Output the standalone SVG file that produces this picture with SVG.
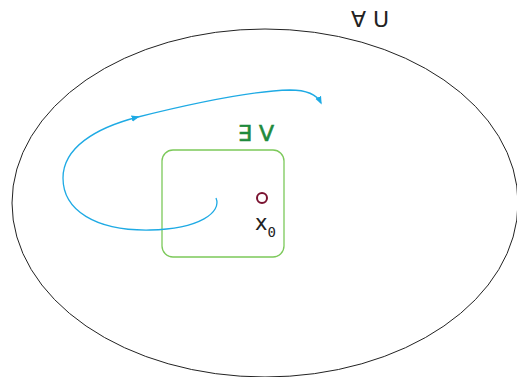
<svg xmlns="http://www.w3.org/2000/svg" width="517" height="377" viewBox="0 0 517 377">
<style>
.lbl{font-family:"DejaVu Sans","Liberation Sans",sans-serif}
.mono{font-family:"DejaVu Sans Mono","Liberation Mono",monospace}
.flow{fill:none;stroke:#1eaae4;stroke-width:1.3}
</style>
<defs>
<marker id="ah" viewBox="0 0 10 10" refX="8" refY="5" markerWidth="8" markerHeight="8" markerUnits="userSpaceOnUse" orient="auto">
<path d="M0,1 L10,5 L0,9 z" fill="#1eaae4"/>
</marker>
</defs>
<rect width="517" height="377" fill="#fff"/>
<g id="U">
<ellipse cx="265" cy="203" rx="253" ry="174" fill="none" stroke="#222" stroke-width="1"/>
<text class="lbl" x="351" y="27" font-size="22" fill="#222">∀ U</text>
</g>
<g id="V">
<rect x="162" y="150" width="122" height="107" rx="11" fill="none" stroke="#7cc95a" stroke-width="1.3"/>
<text class="lbl" x="238" y="141" font-size="22" fill="#1e8a3c" stroke="#1e8a3c" stroke-width="0.6">∃ V</text>
</g>
<g id="x0">
<circle cx="262" cy="198" r="5" fill="none" stroke="#7a1230" stroke-width="2"/>
<text class="lbl" x="255" y="230" font-size="21" fill="#222">x<tspan class="mono" font-size="14" dy="7">0</tspan></text>
</g>
<g id="connectors">
<path class="flow" marker-end="url(#ah)" d="M216 198 C222 212 200 229 150 230 C95 231 63 210 63 178 C63 148 95 128 138 117"/>
<path class="flow" marker-end="url(#ah)" d="M136 117.5 C190 104 250 91 290 90 C308 90 317 95 321 103"/>
</g>
</svg>
